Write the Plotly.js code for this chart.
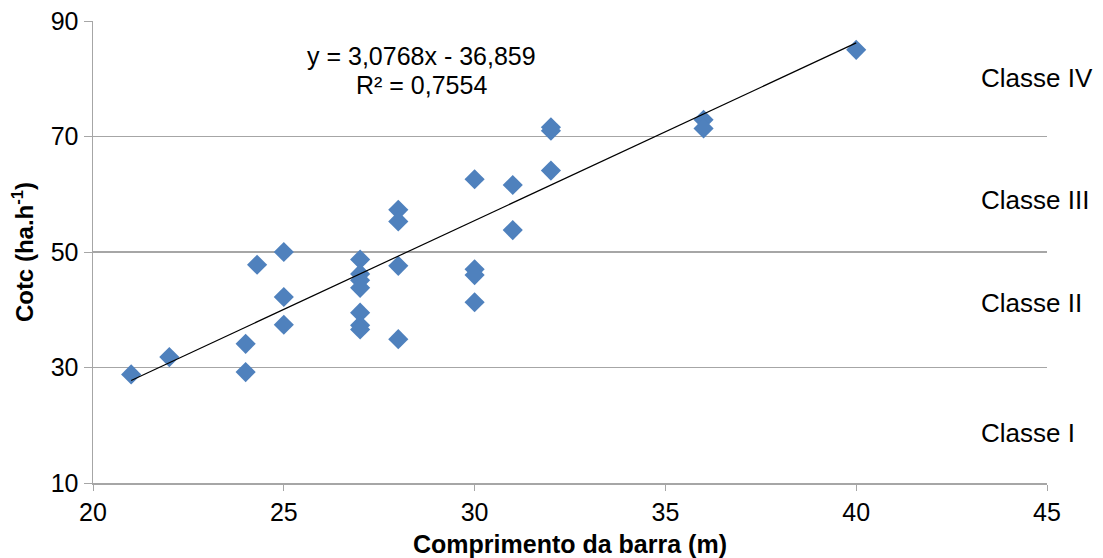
<!DOCTYPE html>
<html><head><meta charset="utf-8">
<script src="https://cdn.plot.ly/plotly-3.0.1.min.js"></script>
<style>body{margin:0;background:#fff}#c{width:1103px;height:558px}</style>
</head><body><div id="c"></div>
<script>
const barLength = [21,22,24,24,24.3,25,25,25,27,27,27,27,27,27,27,28,28,28,28,30,30,30,30,31,31,32,32,32,36,36,40];
const cotc      = [28.8,31.8,29.2,34.1,47.8,50.0,42.2,37.4,48.7,46.2,45.1,43.8,39.5,37.3,36.6,57.3,55.3,47.6,34.9,62.6,47.0,46.0,41.3,61.6,53.8,71.6,71.0,64.1,72.9,71.4,85.0];
const slope = 3.0768, intercept = -36.859;
const trendX = [21, 40];
const trendY = trendX.map(v => slope*v + intercept);
const classLabels = ["Classe IV","Classe III","Classe II","Classe I"];
const classY = [80.2, 59.0, 41.2, 18.7];
const eqLines = ["y = 3,0768x - 36,859", "R² = 0,7554"];
const eqY = [83.9, 78.9];
const font = "Liberation Sans, Arial, sans-serif";

const data = [
  {x: barLength, y: cotc, mode: 'markers', type: 'scatter',
   marker: {symbol: 'diamond', size: 15.5, color: '#4F81BD'}},
  {x: trendX, y: trendY, mode: 'lines', type: 'scatter',
   line: {color: '#000', width: 1.2}}
];
const annotations = classLabels.map((t,i) => ({
  text: t, x: 43.22, y: classY[i], xref: 'x', yref: 'y', xanchor: 'left', yanchor: 'middle',
  showarrow: false, font: {family: font, size: 26, color: '#000'}
}));
eqLines.forEach((t,i) => annotations.push({text: t, x: 28.6, y: eqY[i], xref: 'x', yref: 'y',
  xanchor: 'center', yanchor: 'middle',
  showarrow: false, font: {family: font, size: 25, color: '#000'}}));
const layout = {
  width: 1103, height: 558, showlegend: false,
  margin: {l: 93, r: 56, t: 21, b: 75},
  paper_bgcolor: '#fff', plot_bgcolor: '#fff',
  font: {family: font, size: 25, color: '#000'},
  xaxis: {range: [20, 45], dtick: 5, tick0: 20, showgrid: false, zeroline: false, automargin: false,
    showline: true, linecolor: '#A6A6A6', linewidth: 1.5, ticks: 'outside', ticklen: 6, tickcolor: '#A6A6A6',
    tickfont: {family: font, size: 25, color: '#000'},
    title: {text: '<b>Comprimento da barra (m)</b>', font: {family: font, size: 25, color: '#000'}, standoff: 12}},
  yaxis: {range: [10, 90], dtick: 20, tick0: 10, showgrid: true, gridcolor: '#A6A6A6', gridwidth: 1.3, zeroline: false, automargin: false,
    showline: true, linecolor: '#A6A6A6', linewidth: 1.5, ticks: 'outside', ticklen: 8, tickcolor: '#A6A6A6',
    tickfont: {family: font, size: 25, color: '#000'},
    title: {text: '<b>Cotc (ha.h<sup>-1</sup>)</b>', font: {family: font, size: 24, color: '#000'}, standoff: 10}},
  annotations: annotations
};
Plotly.newPlot('c', data, layout, {displayModeBar: false, staticPlot: true});
</script></body></html>
